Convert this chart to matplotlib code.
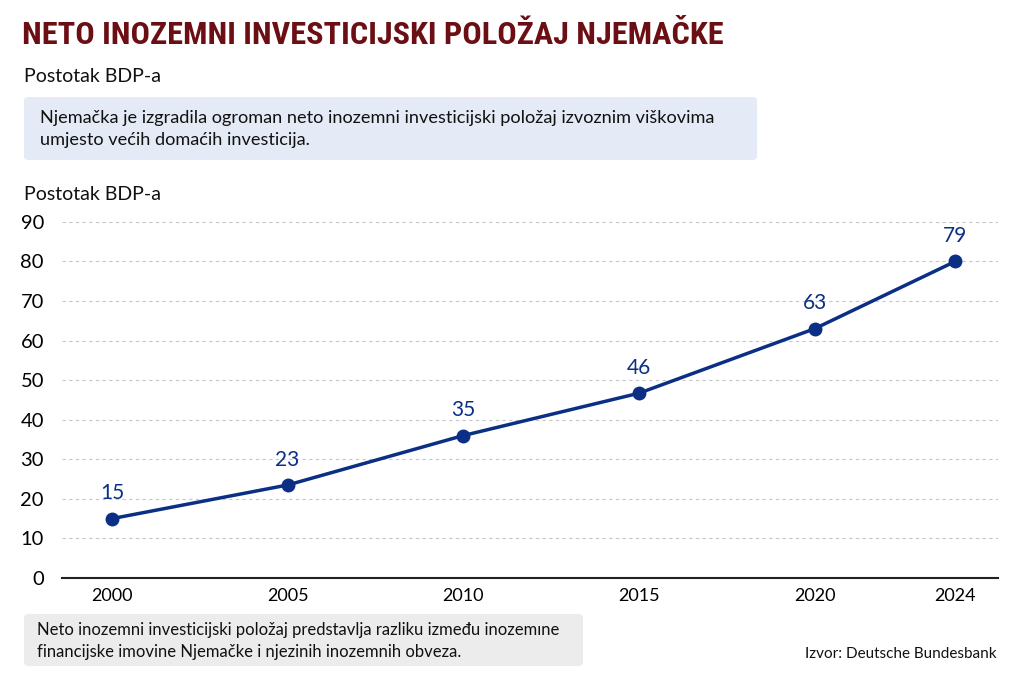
import matplotlib.pyplot as plt
from matplotlib import font_manager
from matplotlib.patches import FancyBboxPatch

# podaci
godine = [2000, 2005, 2010, 2015, 2020, 2024]
vrijednosti = [15, 23.5, 36, 46.7, 63, 80]
oznake = ['15', '23', '35', '46', '63', '79']

naslov = 'NETO INOZEMNI INVESTICIJSKI POLOŽAJ NJEMAČKE'
podnaslov = 'Postotak BDP-a'
poruka = ('Njemačka je izgradila ogroman neto inozemni investicijski položaj izvoznim viškovima\n'
          'umjesto većih domaćih investicija.')
napomena = ('Neto inozemni investicijski položaj predstavlja razliku između inozemıne\n'
            'financijske imovine Njemačke i njezinih inozemnih obveza.')
izvor = 'Izvor: Deutsche Bundesbank'

plava = '#0b2f85'
plt.rcParams['font.family'] = ['Lato', 'DejaVu Sans']

# uski font za naslov, ako postoji
dostupni = {f.name for f in font_manager.fontManager.ttflist}
uski = [n for n in ['Liberation Sans Narrow', 'DejaVu Sans Condensed', 'Roboto Condensed']
        if n in dostupni]
naslov_font = uski[0] if uski else 'DejaVu Sans'

fig = plt.figure(figsize=(10.24, 6.83), dpi=100)
fig.patch.set_facecolor('white')

ax = fig.add_axes([62/1024, 1 - 578/683, 936/1024, 366/683])
ax.plot(godine, vrijednosti, color=plava, linewidth=2.5, marker='o', markersize=9, zorder=3)
for x, y, t in zip(godine, vrijednosti, oznake):
    ax.annotate(t, (x, y), textcoords='offset points', xytext=(0, 11), ha='center',
                va='bottom', fontsize=15, color=plava)

ax.set_xlim(1998.58, 2025.22)
ax.set_ylim(0, 92.5)
ax.set_xticks(godine)
ax.set_xticklabels([str(g) for g in godine], fontsize=13)
ax.set_yticks(range(0, 100, 10))
ax.tick_params(axis='y', labelsize=14.5, length=0, pad=13)
ax.tick_params(axis='x', length=0, pad=7)
ax.grid(axis='y', linestyle=(0, (3, 3)), color='#c8c8c8', linewidth=0.8)
ax.set_axisbelow(True)
for s in ['top', 'right', 'left']:
    ax.spines[s].set_visible(False)
ax.spines['bottom'].set_color('#222222')
ax.spines['bottom'].set_linewidth(1.5)

t = fig.text(22/1024, 1 - 35/683, naslov, fontsize=30, fontweight='bold', color='#6b0f14',
             family=naslov_font, fontstretch='condensed', va='center')
# prilagodi velicinu da naslov bude sirok ~700 px
fig.canvas.draw()
sirina = t.get_window_extent().width
t.set_fontsize(30 * 700 / sirina)

fig.text(24/1024, 1 - 76/683, podnaslov, fontsize=14, color='#111111', va='center')

box1 = FancyBboxPatch((24/1024, 1 - 160/683), 733/1024, 63/683,
                      boxstyle='round,pad=0,rounding_size=0.005', transform=fig.transFigure,
                      facecolor='#e4eaf6', edgecolor='none')
fig.patches.append(box1)
fig.text(40/1024, 1 - 129/683, poruka, fontsize=13.1, color='#111111', va='center',
         linespacing=1.5)

fig.text(24/1024, 1 - 194/683, podnaslov, fontsize=14, color='#111111', va='center')

box2 = FancyBboxPatch((24/1024, 1 - 666/683), 559/1024, 52/683,
                      boxstyle='round,pad=0,rounding_size=0.005', transform=fig.transFigure,
                      facecolor='#ececec', edgecolor='none')
fig.patches.append(box2)
fig.text(37/1024, 1 - 641/683, napomena, fontsize=12, color='#111111', va='center',
         linespacing=1.45)
fig.text(997/1024, 1 - 654/683, izvor, fontsize=11, color='#111111', va='center', ha='right')

fig.savefig('out.png', dpi=100)
